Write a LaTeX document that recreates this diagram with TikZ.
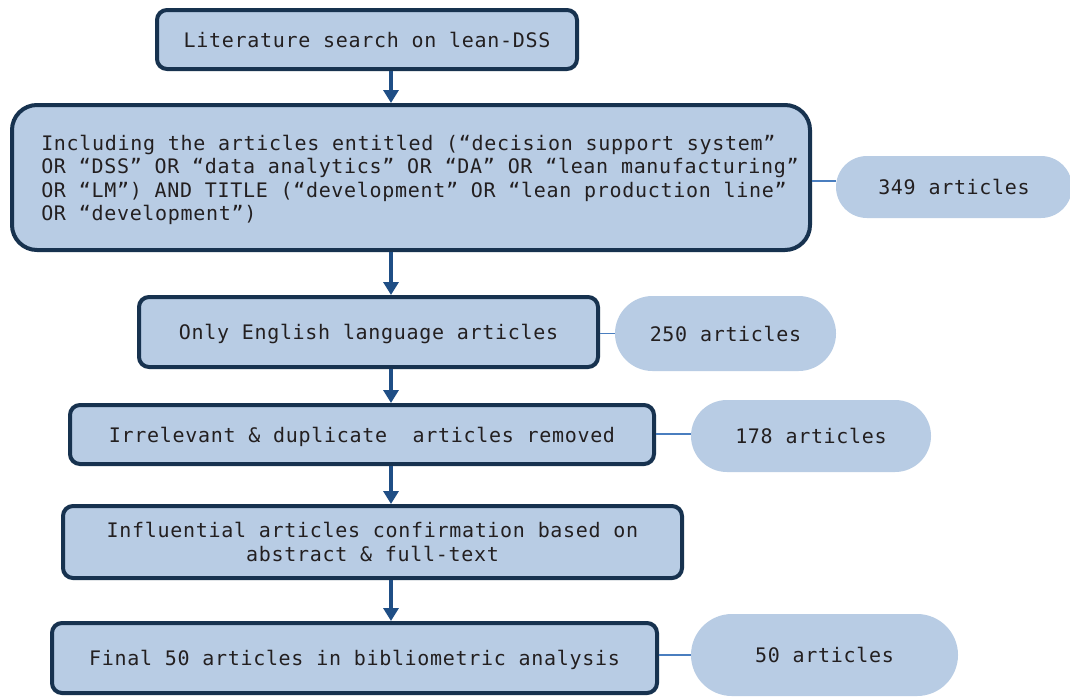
\documentclass[tikz,border=0pt]{standalone}
\usepackage{fontspec}
\usetikzlibrary{arrows.meta,shapes.misc}
\newfontfamily\flowfont{DejaVu Sans Mono}[LetterSpace=3.5]
\definecolor{boxfill}{HTML}{B8CCE4}
\definecolor{boxline}{HTML}{17324F}
\definecolor{arrowcol}{HTML}{1F4E85}
\definecolor{linkcol}{HTML}{4A7EBF}
\definecolor{txt}{HTML}{231F20}
\tikzset{
  stepbox/.style={draw=boxline, fill=boxfill, line width=4pt, rounded corners=10pt,
    inner sep=0pt, align=center, text=txt, text depth=0pt,
    font=\flowfont\fontsize{20}{23.5}\selectfont},
  countpill/.style={rounded rectangle, fill=boxfill, draw=none, inner sep=0pt,
    text=txt, text depth=0pt, font=\flowfont\fontsize{20}{23.5}\selectfont},
  flow/.style={draw=arrowcol, line width=3.5pt,
    -{Triangle[width=15pt,length=13pt]}},
  link/.style={draw=linkcol, line width=1.8pt}
}
\begin{document}
\begin{tikzpicture}[x=1pt,y=-1pt]
\useasboundingbox[fill=white] (0,0) rectangle (1070,697);

% main steps
\node[stepbox, minimum width=420pt, minimum height=59pt] (b1) at (367,39.5)
  {Literature search on lean-DSS};
\node[stepbox, rounded corners=25pt, minimum width=798pt, minimum height=145pt] (b2) at (411,177.5)
  {\begin{tabular}[b]{@{\hspace{18pt}}l@{}}
   Including the articles entitled (“decision support system”\\
   OR “DSS” OR “data analytics” OR “DA” OR “lean manufacturing”\\
   OR “LM”) AND TITLE (“development” OR “lean production line”\\
   OR “development”)
   \end{tabular}};
\node[stepbox, minimum width=459pt, minimum height=70pt] (b3) at (368.5,332)
  {Only English language articles};
\node[stepbox, minimum width=584pt, minimum height=59pt] (b4) at (362,434.5)
  {Irrelevant \& duplicate\ \ articles removed};
\node[stepbox, minimum width=619pt, minimum height=72pt] (b5) at (372.5,542)
  {Influential articles confirmation based on\\abstract \& full-text};
\node[stepbox, minimum width=605pt, minimum height=70pt] (b6) at (354.5,658)
  {Final 50 articles in bibliometric analysis};

% article counts
\node[countpill, minimum width=236pt, minimum height=62pt] (p1) at (954,187) {349 articles};
\node[countpill, minimum width=221pt, minimum height=75pt] (p2) at (725.5,333.5) {250 articles};
\node[countpill, minimum width=240pt, minimum height=72pt] (p3) at (811,436) {178 articles};
\node[countpill, minimum width=267pt, minimum height=82pt] (p4) at (824.5,655) {50 articles};

% vertical spine of the flow
\coordinate (spine) at (391,0);
\draw[flow] (b1.south -| spine) -- (b2.north -| spine);
\draw[flow] (b2.south -| spine) -- (b3.north -| spine);
\draw[flow] (b3.south -| spine) -- (b4.north -| spine);
\draw[flow] (b4.south -| spine) -- (b5.north -| spine);
\draw[flow] (b5.south -| spine) -- (b6.north -| spine);

% links to the counts
\draw[link] ([yshift=6pt]p1.west) -- ([yshift=6pt]p1.west -| b2.east);
\draw[link] (p2.west) -- (p2.west -| b3.east);
\draw[link] ([yshift=2pt]p3.west) -- ([yshift=2pt]p3.west -| b4.east);
\draw[link] (p4.west) -- (p4.west -| b6.east);
\end{tikzpicture}
\end{document}
